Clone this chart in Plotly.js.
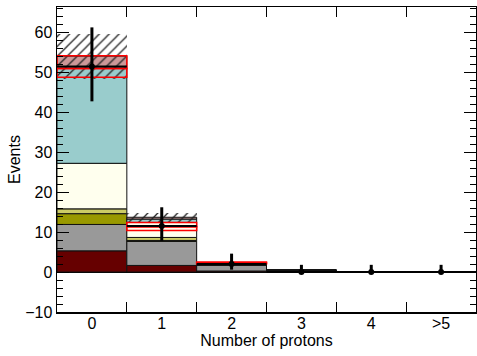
<!DOCTYPE html>
<html>
<head>
<meta charset="utf-8">
<script src="https://cdn.plot.ly/plotly-3.0.1.min.js"></script>
<style>html,body{margin:0;padding:0;background:#fff;}#chart{width:477px;height:356px;}</style>
</head>
<body>
<div id="chart"></div>
<script>
// Bins and tick labels
const binCenters = [0, 1, 2, 3, 4, 5];
const binLabels = ["0", "1", "2", "3", "4", ">5"];

// Stacked MC components (heights per bin), bottom to top
const darkRed    = [5.3, 1.65, 0.25, 0, 0, 0];
const grey       = [6.6, 6.0, 1.45, 0.45, 0, 0];
const olive      = [2.7, 0.25, 0.05, 0, 0, 0];
const lightOlive = [1.2, 0.75, 0.05, 0, 0, 0];
const cream      = [11.4, 3.75, 0.2, 0, 0, 0];
const teal       = [23.8, 0.85, 0.1, 0, 0, 0];
const pink       = [3.0, 0.45, 0.1, 0, 0, 0];

// Hatched systematic band (low / high)
const hatchLow  = [48.4, 12.6, 1.9, null, null, null];
const hatchHigh = [59.6, 14.8, 2.6, null, null, null];

// Red box prediction (low / central / high)
const redLow  = [48.7, 10.4, 2.0, null, null, null];
const redMid  = [50.9, 11.3, 2.25, null, null, null];
const redHigh = [54.1, 12.4, 2.5, null, null, null];

// Data points with asymmetric errors
const dataY     = [51.4, 11.5, 2.0, 0, 0, 0];
const dataErrUp = [9.8, 4.7, 2.6, 1.8, 1.8, 1.8];
const dataErrDn = [8.7, 3.7, 1.4, 0.5, 0.5, 0.5];

const layers = [
  {v: darkRed, c: '#660000'},
  {v: grey, c: '#999999'},
  {v: olive, c: '#999900'},
  {v: lightOlive, c: '#cccc66'},
  {v: cream, c: '#ffffee'},
  {v: teal, c: '#99cccc'},
  {v: pink, c: '#cc9999'}
];

const traces = [];
let cum = binCenters.map(() => 0);
layers.forEach(L => {
  traces.push({
    type: 'bar', x: binCenters, y: L.v, base: cum.slice(), width: 1,
    marker: {color: L.c, line: {color: '#111', width: 1}},
    hoverinfo: 'skip', showlegend: false
  });
  cum = cum.map((c, i) => c + L.v[i]);
});

traces.push({
  type: 'bar', x: binCenters,
  y: hatchHigh.map((h, i) => h == null ? null : h - hatchLow[i]),
  base: hatchLow, width: 1,
  marker: {color: 'rgba(0,0,0,0)', line: {width: 0},
    pattern: {shape: '/', fgcolor: '#222', bgcolor: 'rgba(0,0,0,0)', size: 7, solidity: 0.18, fillmode: 'replace'}},
  hoverinfo: 'skip', showlegend: false
});

traces.push({
  type: 'bar', x: binCenters,
  y: redMid.map((m, i) => m == null ? null : m - redLow[i]),
  base: redLow, width: 1,
  marker: {color: 'rgba(0,0,0,0)', line: {color: '#ff0000', width: 1.5}},
  hoverinfo: 'skip', showlegend: false
});
traces.push({
  type: 'bar', x: binCenters,
  y: redHigh.map((h, i) => h == null ? null : h - redMid[i]),
  base: redMid, width: 1,
  marker: {color: 'rgba(0,0,0,0)', line: {color: '#ff0000', width: 1.5}},
  hoverinfo: 'skip', showlegend: false
});

traces.push({
  type: 'scatter', mode: 'markers', x: binCenters, y: dataY,
  marker: {color: '#000', size: 6},
  error_y: {type: 'data', symmetric: false, array: dataErrUp, arrayminus: dataErrDn, color: '#000', thickness: 3, width: 0},
  error_x: {type: 'constant', value: 0.5, color: '#000', thickness: 2, width: 0},
  hoverinfo: 'skip', showlegend: false
});

const layout = {
  width: 477, height: 356,
  margin: {l: 57, r: 1, t: 7, b: 44},
  paper_bgcolor: '#fff', plot_bgcolor: '#fff',
  font: {family: 'Liberation Sans, Arial, sans-serif', size: 16, color: '#000'},
  barmode: 'overlay', bargap: 0,
  showlegend: false,
  xaxis: {
    range: [-0.5, 5.5], tickmode: 'array', tickvals: binCenters, ticktext: binLabels,
    ticks: '', showline: true, linecolor: '#000', linewidth: 1.5, mirror: 'ticks',
    showgrid: false, zeroline: false, ticklabelstandoff: -4,
    minor: {tickmode: 'array', tickvals: [0.5, 1.5, 2.5, 3.5, 4.5], ticks: 'inside', ticklen: 10, tickwidth: 1, tickcolor: '#000', showgrid: false},
    title: {text: 'Number of protons', standoff: 0, font: {size: 16}},
    tickfont: {size: 16}
  },
  yaxis: {
    range: [-10, 66.3], tickmode: 'linear', tick0: 0, dtick: 10,
    ticks: 'inside', ticklen: 12, tickwidth: 1, tickcolor: '#000',
    showline: true, linecolor: '#000', linewidth: 1.5, mirror: 'ticks',
    showgrid: false, zeroline: true, zerolinecolor: '#000', zerolinewidth: 2,
    minor: {dtick: 2, ticks: 'inside', ticklen: 6, tickwidth: 1, tickcolor: '#000', showgrid: false},
    title: {text: 'Events', standoff: 0, font: {size: 16}},
    tickfont: {size: 16}
  }
};

Plotly.newPlot('chart', traces, layout, {displayModeBar: false, staticPlot: true});
</script>
</body>
</html>
